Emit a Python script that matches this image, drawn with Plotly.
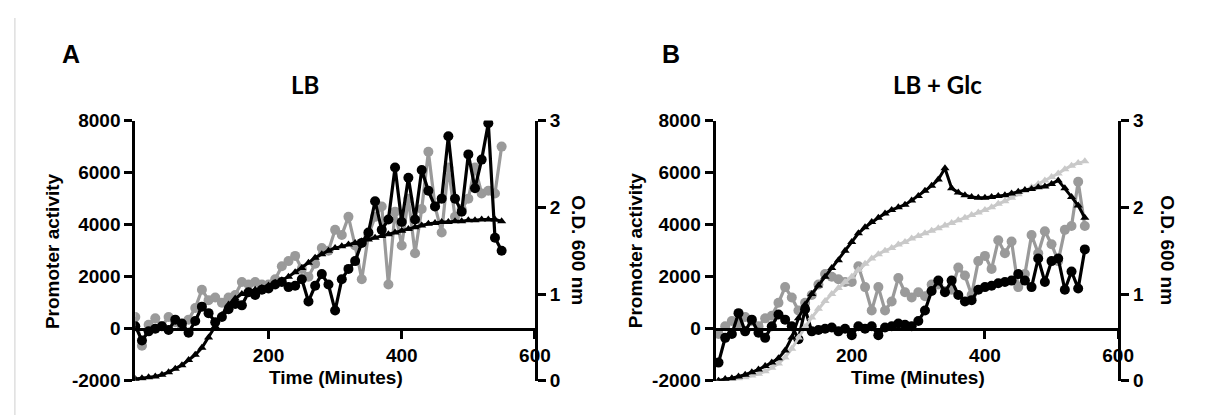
import plotly.graph_objects as go

# ---------------- data ----------------
time_min = list(range(0, 560, 10))  # 0..550 every 10 min

# Panel A (LB)
lb_black_activity = [100, -450, -100, 0, 100, -50, 350, 200, -150, 300,
                     850, 600, 250, 450, 750, 950, 900, 1400, 1300, 1500,
                     1550, 1700, 1800, 1600, 1650, 1900, 1050, 1650, 2100, 1700,
                     700, 1900, 2300, 2600, 3300, 3700, 4900, 3800, 4200, 6200,
                     4100, 5800, 4200, 6100, 5300, 4700, 5000, 7400, 5000, 4500,
                     6700, 5400, 6500, 7900, 3500, 3000]
lb_gray_activity = [450, -650, 150, 400, 100, 450, 250, 100, 350, 800,
                    1500, 1100, 1200, 1000, 1200, 1300, 1800, 1700, 1800, 1700,
                    1700, 1900, 2400, 2600, 2800, 2300, 2000, 2500, 3100, 3000,
                    3800, 3600, 4300, 3200, 1900, 3600, 4300, 4700, 1700, 4500,
                    3200, 5000, 2900, 4600, 6800, 4700, 3700, 6200, 4300, 4600,
                    5000, 6200, 5200, 5300, 5200, 7000]
lb_black_od = [0.02, 0.03, 0.04, 0.05, 0.07, 0.10, 0.14, 0.18, 0.24, 0.30,
               0.38, 0.50, 0.63, 0.76, 0.88, 0.95, 1.00, 1.03, 1.05, 1.07,
               1.10, 1.13, 1.16, 1.20, 1.25, 1.30, 1.36, 1.42, 1.46, 1.50,
               1.53, 1.55, 1.57, 1.59, 1.61, 1.63, 1.65, 1.67, 1.69, 1.71,
               1.73, 1.75, 1.77, 1.79, 1.81, 1.82, 1.83, 1.83, 1.84, 1.84,
               1.85, 1.85, 1.86, 1.86, 1.86, 1.84]

# Panel B (LB + Glc)
glc_black_activity = [-1300, -350, -200, 600, -100, 350, -150, -350, 100, 550,
                      350, 100, -400, 750, -100, -50, 0, 50, -100, 0,
                      -250, 100, 0, 100, -250, 50, 100, 200, 150, 100,
                      300, 700, 1450, 1850, 1400, 1850, 1300, 1050, 1100, 1500,
                      1600, 1650, 1750, 1800, 1850, 2100, 1850, 1600, 2700, 1800,
                      2600, 2700, 1500, 2200, 1550, 3050]
glc_gray_activity = [-200, 100, 300, 200, 450, 300, 100, 400, 500, 1000,
                     1600, 1200, 700, 1000, 1300, 1700, 2100, 2000, 1900, 1800,
                     1800, 2400, 1600, 700, 1600, 700, 1050, 1950, 1400, 1200,
                     1400, 1250, 1700, 1700, 1450, 1500, 2350, 2050, 1300, 2600,
                     2800, 2300, 3400, 2900, 3350, 1600, 2100, 3600, 2900, 3750,
                     3250, 2600, 3800, 3950, 5650, 3950]
glc_black_od = [0.00, 0.02, 0.03, 0.05, 0.07, 0.10, 0.13, 0.17, 0.21, 0.26,
                0.35, 0.50, 0.72, 0.88, 1.00, 1.10, 1.20, 1.30, 1.39, 1.50,
                1.60, 1.70, 1.77, 1.83, 1.88, 1.93, 1.97, 2.00, 2.03, 2.08,
                2.13, 2.19, 2.25, 2.32, 2.45, 2.22, 2.17, 2.14, 2.12, 2.11,
                2.11, 2.12, 2.13, 2.14, 2.16, 2.18, 2.20, 2.21, 2.23, 2.24,
                2.27, 2.31, 2.22, 2.12, 2.02, 1.88]
glc_gray_od = [0.00, 0.01, 0.02, 0.03, 0.04, 0.06, 0.08, 0.11, 0.15, 0.20,
               0.27, 0.37, 0.50, 0.62, 0.73, 0.83, 0.92, 1.00, 1.07, 1.14,
               1.20, 1.28, 1.35, 1.41, 1.46, 1.50, 1.53, 1.57, 1.60, 1.64,
               1.67, 1.70, 1.73, 1.76, 1.79, 1.82, 1.85, 1.88, 1.91, 1.94,
               1.97, 2.00, 2.04, 2.07, 2.11, 2.15, 2.19, 2.23, 2.27, 2.31,
               2.35, 2.39, 2.44, 2.48, 2.51, 2.53]

activity_ticks = [-2000, 0, 2000, 4000, 6000, 8000]
activity_labels = ["-2000", "0", "2000", "4000", "6000", "8000"]
od_ticks = [0, 1, 2, 3]
time_ticks = [200, 400, 600]

# ---------------- styles ----------------
BLACK = "#000000"
GRAY = "#9a9a9a"
LIGHT = "#c9c9c9"
FONT = "Liberation Sans, Arial, sans-serif"

W, H = 1211, 418
def px_x(p): return p / W
def px_y(p): return (H - p) / H

y_dom = [px_y(382), px_y(108)]
xA = [px_x(129), px_x(534)]
xB = [px_x(717), px_x(1125)]
x_pos = y_dom[0] + 0.2 * (y_dom[1] - y_dom[0])

fig = go.Figure()

def circ(x, y, color, xa, ya):
    return go.Scatter(x=x, y=y, mode="lines+markers", xaxis=xa, yaxis=ya,
                      line=dict(color=color, width=3.2),
                      marker=dict(symbol="circle", size=10, color=color),
                      showlegend=False, hoverinfo="skip")

def tri(x, y, color, xa, ya):
    return go.Scatter(x=x, y=y, mode="lines+markers", xaxis=xa, yaxis=ya,
                      line=dict(color=color, width=3),
                      marker=dict(symbol="triangle-up", size=8, color=color),
                      showlegend=False, hoverinfo="skip")

# Panel A
fig.add_trace(circ(time_min, lb_gray_activity, GRAY, "x", "y"))
fig.add_trace(tri(time_min, lb_black_od, BLACK, "x", "y2"))
fig.add_trace(circ(time_min, lb_black_activity, BLACK, "x", "y"))
# Panel B
fig.add_trace(tri(time_min, glc_gray_od, LIGHT, "x2", "y4"))
fig.add_trace(circ(time_min, glc_gray_activity, GRAY, "x2", "y3"))
fig.add_trace(tri(time_min, glc_black_od, BLACK, "x2", "y4"))
fig.add_trace(circ(time_min, glc_black_activity, BLACK, "x2", "y3"))

tickfont = dict(family=FONT, size=19, color=BLACK, weight="bold")
common_axis = dict(showline=True, linecolor=BLACK, linewidth=3, ticks="outside",
                   ticklen=8, tickwidth=3, tickcolor=BLACK, showgrid=False,
                   zeroline=False, tickfont=tickfont)

fig.update_layout(
    width=W, height=H, margin=dict(l=0, r=0, t=0, b=0),
    paper_bgcolor="white", plot_bgcolor="rgba(0,0,0,0)",
    xaxis=dict(domain=xA, range=[0, 600], tickvals=time_ticks, anchor="free",
               position=x_pos, **common_axis),
    yaxis=dict(domain=y_dom, range=[-2000, 8000], tickvals=activity_ticks,
               ticktext=activity_labels, anchor="x", **common_axis),
    yaxis2=dict(range=[0, 3], tickvals=od_ticks, overlaying="y", side="right",
                anchor="x", **common_axis),
    xaxis2=dict(domain=xB, range=[-4.5, 600], tickvals=time_ticks, anchor="free",
                position=x_pos, **common_axis),
    yaxis3=dict(domain=y_dom, range=[-2000, 8000], tickvals=activity_ticks,
                ticktext=activity_labels, anchor="x2", **common_axis),
    yaxis4=dict(range=[0, 3], tickvals=od_ticks, overlaying="y3", side="right",
                anchor="x2", **common_axis),
)

lab = dict(family=FONT, size=19, color=BLACK, weight="bold")
ann = []
def add(text, x, y, font, angle=0):
    ann.append(dict(text=text, x=px_x(x), y=px_y(y), xref="paper", yref="paper",
                    showarrow=False, font=font, textangle=angle,
                    xanchor="center", yanchor="middle"))

panel_font = dict(family=FONT, size=25, color=BLACK, weight="bold")
title_font = dict(family="Lato, " + FONT, size=24, color=BLACK, weight="bold")
add("A", 64, 38, panel_font)
add("B", 672, 38, panel_font)
add("LB", 301, 70, title_font)
add("LB + Glc", 942, 70, title_font)
add("Promoter activity", 45, 245, lab, -90)
add("Promoter activity", 636, 245, lab, -90)
add("Time (Minutes)", 332, 379, lab)
add("Time (Minutes)", 922, 379, lab)
add("O.D. 600 nm", 578, 245, lab, 90)
add("O.D. 600 nm", 1175, 245, lab, 90)
fig.update_layout(annotations=ann)

fig.add_shape(type="line", xref="paper", yref="paper", x0=px_x(7), x1=px_x(7),
              y0=0, y1=1, line=dict(color="#cfcfcf", width=1))

fig.write_html("out.html")
